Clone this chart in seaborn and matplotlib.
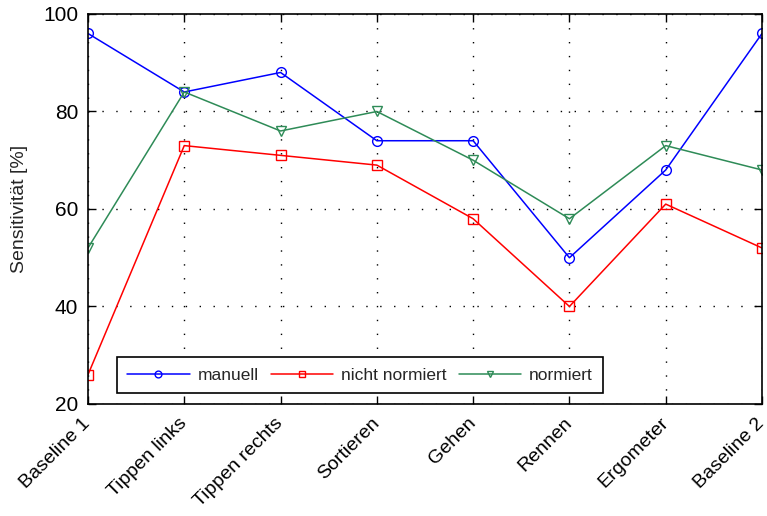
import numpy as np
import pandas as pd
import matplotlib
matplotlib.use("Agg")
import matplotlib.pyplot as plt
import matplotlib.transforms as mtransforms
import seaborn as sns

categories = ["Baseline 1", "Tippen links", "Tippen rechts", "Sortieren",
              "Gehen", "Rennen", "Ergometer", "Baseline 2"]
manuell = [96, 84, 88, 74, 74, 50, 68, 96]
nicht_normiert = [26, 73, 71, 69, 58, 40, 61, 52]
normiert = [52, 84, 76, 80, 70, 58, 73, 68]
y_ticks = [20, 40, 60, 80, 100]

sns.set_theme(style="white")
plt.rcParams["font.family"] = ["Liberation Sans", "DejaVu Sans"]

FS = 15
XFS = 14

fig = plt.figure(figsize=(7.67, 5.16), dpi=100)
ax = fig.add_axes([0.1147, 0.2171, 0.8788, 0.7558])

pos = np.arange(len(categories))
series = [
    ("manuell", manuell, "#0000ff", "o"),
    ("nicht normiert", nicht_normiert, "#ff0000", "s"),
    ("normiert", normiert, "#2e8b57", "v"),
]
for label, vals, col, mk in series:
    df = pd.DataFrame({"x": pos, "y": vals})
    sns.lineplot(data=df, x="x", y="y", ax=ax, color=col, marker=mk,
                 markersize=7, markerfacecolor="none", markeredgecolor=col,
                 markeredgewidth=1.0, linewidth=1.1, label=label, sort=False)

ax.set_xlim(0, len(categories) - 1)
ax.set_ylim(20, 100)
ax.set_yticks(y_ticks)
ax.set_xticks(pos)
ax.set_xticklabels(categories, rotation=45, ha="right", va="center",
                   rotation_mode="anchor", fontsize=XFS)
# nudge the rotated labels left so their ends sit under the ticks
shift = mtransforms.ScaledTranslation(-6.5 / 72, 0, fig.dpi_scale_trans)
for lbl in ax.get_xticklabels():
    lbl.set_transform(lbl.get_transform() + shift)
ax.set_xlabel("")
ax.set_ylabel("Sensitivität [%]", fontsize=14, labelpad=11)

ax.tick_params(axis="both", direction="in", length=6, width=1, labelsize=FS,
               top=True, right=True, bottom=True, left=True, colors="black")
ax.tick_params(axis="x", pad=12, labelsize=XFS)
ax.tick_params(axis="y", pad=7)
ax.grid(True, color="black", linestyle=(0, (1, 9)), linewidth=1.0)
for sp in ax.spines.values():
    sp.set_visible(True)
    sp.set_color("black")
    sp.set_linewidth(1.2)

leg = ax.legend(loc="lower left", bbox_to_anchor=(0.0426, 0.027), ncol=3,
                fontsize=12.5, frameon=True, fancybox=False, framealpha=1,
                edgecolor="black", borderaxespad=0, handlelength=3.6,
                columnspacing=0.7, handletextpad=0.45, borderpad=0.6,
                markerscale=0.7)
leg.get_frame().set_linewidth(1.2)

fig.savefig("out.png", dpi=100)
